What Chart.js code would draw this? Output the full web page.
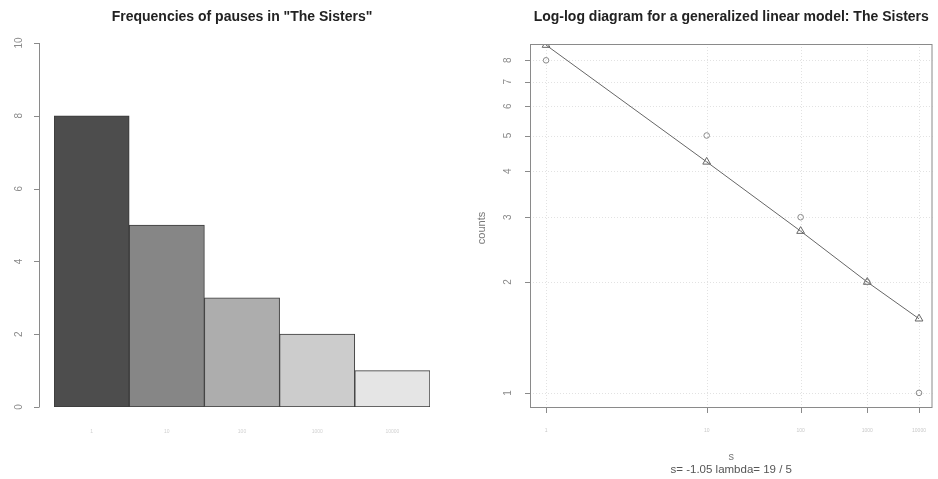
<!DOCTYPE html>
<html>
<head>
<meta charset="utf-8">
<script src="https://cdn.jsdelivr.net/npm/chart.js@4/dist/chart.umd.min.js"></script>
<style>
  html, body { margin: 0; padding: 0; background: #fff; }
  #wrap { position: relative; width: 938px; height: 479px; overflow: hidden; }
  .pane { position: absolute; top: 0; width: 469px; height: 479px; }
</style>
</head>
<body>
<div id="wrap">
  <div class="pane" style="left:0"><canvas id="left" width="469" height="479"></canvas></div>
  <div class="pane" style="left:469px"><canvas id="right" width="469" height="479"></canvas></div>
</div>
<script>
// ---- data ----
const pauseTypes = ["1", "10", "100", "1000", "10000"];
const pauseFreq = [8, 5, 3, 2, 1];
const barColors = ["#4d4d4d", "#868686", "#adadad", "#cccccc", "#e5e5e5"];
const leftYTicks = [0, 2, 4, 6, 8, 10];

const ranks = [1, 2, 3, 4, 5];
const observedCounts = [8, 5, 3, 2, 1];
const fittedCounts = [8.8, 4.24, 2.75, 2.0, 1.59];
const rightYTicks = [1, 2, 3, 4, 5, 6, 7, 8];
const rightXTickLabels = ["1", "10", "100", "1000", "10000"];

const leftTitle = 'Frequencies of pauses in "The Sisters"';
const rightTitle = 'Log-log diagram for a generalized linear model: The Sisters';
const rightYTitle = 'counts';
const rightXTitle = 's';
const rightSub = 's= -1.05 lambda= 19 / 5';

const FONT = '"Liberation Sans", Arial, Helvetica, sans-serif';

// ---- left chart ----
const leftAxes = {
  id: 'leftAxes',
  afterDraw(chart) {
    const ctx = chart.ctx, y = chart.scales.y, x = chart.scales.x;
    const ax = 39;
    ctx.save();
    ctx.strokeStyle = '#8a8a8a'; ctx.lineWidth = 1;
    ctx.beginPath();
    ctx.moveTo(ax + 0.5, y.getPixelForValue(0));
    ctx.lineTo(ax + 0.5, y.getPixelForValue(10));
    leftYTicks.forEach(v => {
      const py = Math.round(y.getPixelForValue(v)) + 0.5;
      ctx.moveTo(ax + 0.5, py); ctx.lineTo(ax - 5, py);
    });
    ctx.stroke();
    ctx.fillStyle = '#8a8a8a';
    ctx.font = '10px ' + FONT;
    ctx.textAlign = 'center'; ctx.textBaseline = 'middle';
    leftYTicks.forEach(v => {
      ctx.save();
      ctx.translate(19, y.getPixelForValue(v));
      ctx.rotate(-Math.PI / 2);
      ctx.fillText(String(v), 0, 0);
      ctx.restore();
    });
    // category labels
    ctx.fillStyle = '#d0d0d0';
    ctx.font = '5px ' + FONT;
    pauseTypes.forEach((t, i) => {
      ctx.fillText(t, x.getPixelForValue(i), 432);
    });
    // title
    ctx.fillStyle = '#222';
    ctx.font = 'bold 14px ' + FONT;
    ctx.fillText(leftTitle, 242, 17);
    ctx.restore();
  }
};

new Chart(document.getElementById('left'), {
  type: 'bar',
  data: {
    labels: pauseTypes,
    datasets: [{
      data: pauseFreq,
      backgroundColor: barColors,
      borderColor: '#3a3a3a',
      borderWidth: 1,
      borderSkipped: false,
      barPercentage: 1,
      categoryPercentage: 1
    }]
  },
  options: {
    responsive: false,
    animation: false,
    devicePixelRatio: 1,
    layout: { padding: { left: 54, right: 39, top: 43, bottom: 72 } },
    plugins: { legend: { display: false }, tooltip: { enabled: false }, title: { display: false } },
    scales: {
      x: { display: false, offset: true },
      y: { display: false, min: 0, max: 10 }
    }
  },
  plugins: [leftAxes]
});

// ---- right chart ----
const rightAxes = {
  id: 'rightAxes',
  beforeDatasetsDraw(chart) {
    const ctx = chart.ctx, a = chart.chartArea, x = chart.scales.x, y = chart.scales.y;
    ctx.save();
    ctx.strokeStyle = '#e2e2e2'; ctx.lineWidth = 1; ctx.setLineDash([1, 2]);
    ctx.beginPath();
    ranks.forEach(r => {
      const px = Math.round(x.getPixelForValue(r)) + 0.5;
      ctx.moveTo(px, a.top); ctx.lineTo(px, a.bottom);
    });
    rightYTicks.forEach(v => {
      const py = Math.round(y.getPixelForValue(v)) + 0.5;
      ctx.moveTo(a.left, py); ctx.lineTo(a.right, py);
    });
    ctx.stroke();
    ctx.restore();
  },
  afterDraw(chart) {
    const ctx = chart.ctx, a = chart.chartArea, x = chart.scales.x, y = chart.scales.y;
    ctx.save();
    ctx.strokeStyle = '#8a8a8a'; ctx.lineWidth = 1;
    ctx.strokeRect(a.left + 0.5, a.top + 0.5, a.right - a.left - 1, a.bottom - a.top - 1);
    ctx.beginPath();
    rightYTicks.forEach(v => {
      const py = Math.round(y.getPixelForValue(v)) + 0.5;
      ctx.moveTo(a.left, py); ctx.lineTo(a.left - 5, py);
    });
    ranks.forEach(r => {
      const px = Math.round(x.getPixelForValue(r)) + 0.5;
      ctx.moveTo(px, a.bottom); ctx.lineTo(px, a.bottom + 5);
    });
    ctx.stroke();
    ctx.fillStyle = '#8a8a8a';
    ctx.font = '10px ' + FONT;
    ctx.textAlign = 'center'; ctx.textBaseline = 'middle';
    rightYTicks.forEach(v => {
      ctx.save();
      ctx.translate(a.left - 22, y.getPixelForValue(v));
      ctx.rotate(-Math.PI / 2);
      ctx.fillText(String(v), 0, 0);
      ctx.restore();
    });
    ctx.fillStyle = '#c8c8c8';
    ctx.font = '5px ' + FONT;
    ranks.forEach((r, i) => {
      ctx.fillText(rightXTickLabels[i], x.getPixelForValue(r), 431);
    });
    // axis titles
    ctx.fillStyle = '#777';
    ctx.font = '11px ' + FONT;
    ctx.save();
    ctx.translate(13, 228);
    ctx.rotate(-Math.PI / 2);
    ctx.fillText(rightYTitle, 0, 0);
    ctx.restore();
    const cx = (a.left + a.right) / 2;
    ctx.fillText(rightXTitle, cx, 457);
    ctx.fillStyle = '#555';
    ctx.font = '11.5px ' + FONT;
    ctx.fillText(rightSub, cx, 470);
    // title
    ctx.fillStyle = '#222';
    ctx.font = 'bold 14px ' + FONT;
    ctx.fillText(rightTitle, cx, 17);
    ctx.restore();
  }
};

new Chart(document.getElementById('right'), {
  type: 'scatter',
  data: {
    datasets: [
      {
        label: 'observed',
        data: ranks.map((r, i) => ({ x: r, y: observedCounts[i] })),
        pointStyle: 'circle',
        pointRadius: 2.8,
        pointBorderColor: '#8a8a8a',
        pointBackgroundColor: 'rgba(0,0,0,0)',
        pointBorderWidth: 1,
        showLine: false
      },
      {
        label: 'fitted',
        data: ranks.map((r, i) => ({ x: r, y: fittedCounts[i] })),
        pointStyle: 'triangle',
        pointRadius: 4.5,
        pointBorderColor: '#666',
        pointBackgroundColor: 'rgba(0,0,0,0)',
        pointBorderWidth: 1,
        borderColor: '#666',
        borderWidth: 1,
        showLine: true
      }
    ]
  },
  options: {
    responsive: false,
    animation: false,
    devicePixelRatio: 1,
    layout: { padding: { left: 61, right: 5, top: 44, bottom: 71 } },
    plugins: { legend: { display: false }, tooltip: { enabled: false }, title: { display: false } },
    scales: {
      x: { type: 'logarithmic', display: false, min: 0.933, max: 5.30 },
      y: { type: 'logarithmic', display: false, min: 0.91, max: 8.86 }
    }
  },
  plugins: [rightAxes]
});
</script>
</body>
</html>
